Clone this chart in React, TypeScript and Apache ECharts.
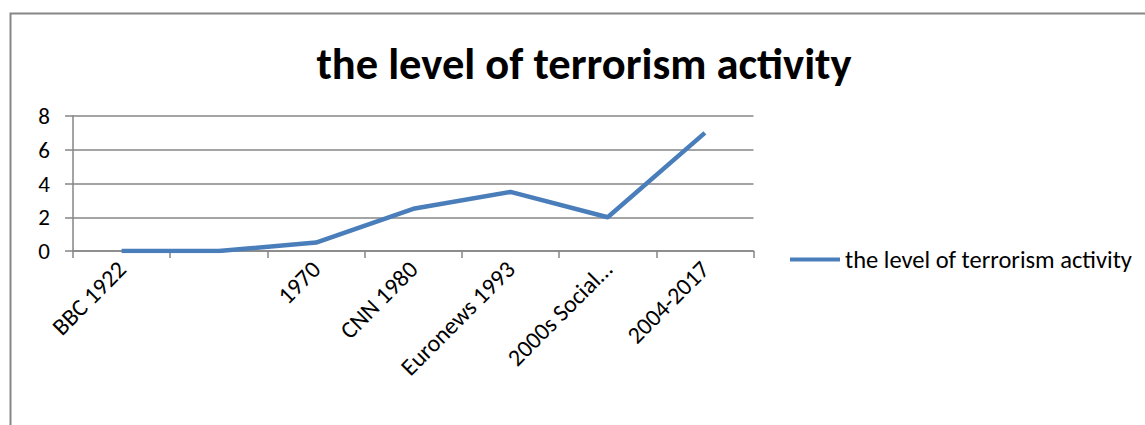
import React, { useEffect, useRef } from "react";
import * as echarts from "echarts";

const categories = ["BBC 1922", "", "1970", "CNN 1980", "Euronews 1993", "2000s Social…", "2004-2017"];
const seriesName = "the level of terrorism activity";
const values = [0, 0, 0.5, 2.5, 3.5, 2, 7];
const titleText = "the level of terrorism activity";

const FONT = "Carlito, Lato, 'Noto Sans', sans-serif";

export default function App() {
  const ref = useRef<HTMLDivElement>(null);
  useEffect(() => {
    if (!ref.current) return;
    const chart = echarts.init(ref.current, undefined, { renderer: "svg" });
    chart.setOption({
      animation: false,
      backgroundColor: "#fff",
      textStyle: { fontFamily: FONT },
      title: {
        text: titleText,
        left: 579,
        textAlign: "center",
        top: 36,
        textStyle: { fontFamily: FONT, fontWeight: "bold", fontSize: 44.5, color: "#000" },
      },
      graphic: [
        {
          type: "rect",
          shape: { x: 10.5, y: 13.5, width: 1300, height: 600 },
          style: { fill: "none", stroke: "#868686", lineWidth: 2 },
          silent: true,
        },
      ],
      legend: {
        left: 785,
        top: 242,
        icon: "rect",
        itemWidth: 50,
        itemHeight: 4,
        data: [seriesName],
        textStyle: { fontFamily: FONT, fontSize: 24.5, color: "#000" },
      },
      grid: { left: 73, right: 391.5, top: 116, bottom: 174, containLabel: false },
      xAxis: {
        type: "category",
        data: categories,
        boundaryGap: true,
        axisLine: { lineStyle: { color: "#868686", width: 1.5 } },
        axisTick: { show: true, length: 7, alignWithLabel: false, lineStyle: { color: "#868686", width: 1.5 } },
        axisLabel: { interval: 0, rotate: 45, margin: 14, fontFamily: FONT, fontSize: 24, color: "#000" },
        splitLine: { show: false },
      },
      yAxis: {
        type: "value",
        min: 0,
        max: 8,
        interval: 2,
        axisLine: { show: true, lineStyle: { color: "#868686", width: 1.5 } },
        axisTick: { show: true, length: 8, lineStyle: { color: "#868686", width: 1.5 } },
        axisLabel: { fontFamily: FONT, fontSize: 23, color: "#000", margin: 23 },
        splitLine: { lineStyle: { color: "#868686", width: 1.5 } },
      },
      series: [
        {
          name: seriesName,
          type: "line",
          data: values,
          symbol: "none",
          smooth: false,
          lineStyle: { color: "#4A7EBB", width: 4.5 },
          itemStyle: { color: "#4A7EBB" },
        },
      ],
    });
    return () => chart.dispose();
  }, []);
  return (
    <div
      ref={ref}
      style={{ position: "fixed", left: 0, top: 0, width: 1145, height: 425, background: "#fff" }}
    />
  );
}
